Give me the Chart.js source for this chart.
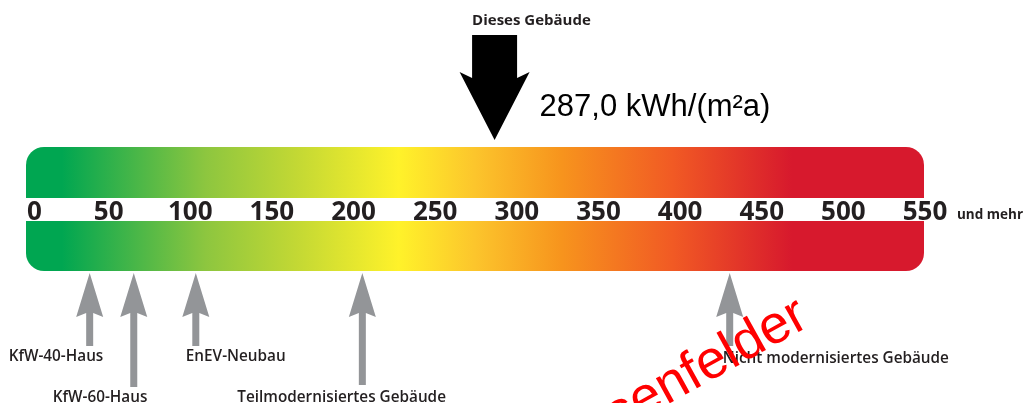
<!DOCTYPE html>
<html><head><meta charset="utf-8">
<script src="https://cdn.jsdelivr.net/npm/chart.js@4"></script>
<style>html,body{margin:0;padding:0;background:#fff}#wrap{width:1029px;height:403px;position:relative}</style>
</head><body><div id="wrap"><canvas id="c"></canvas></div>
<script>
// ---- data ----
const scaleCategory = ['Endenergiebedarf'];
const scaleRange = [0, 550];
const tickValues = [0, 50, 100, 150, 200, 250, 300, 350, 400, 450, 500, 550];
const tickLabels = ['0', '50', '100', '150', '200', '250', '300', '350', '400', '450', '500', '550'];
const tickSuffix = 'und mehr';
const buildingLabel = 'Dieses Gebäude';
const buildingValue = 287.0;
const buildingUnit = 'kWh/(m²a)';
const referenceLabels = ['KfW-40-Haus', 'KfW-60-Haus', 'EnEV-Neubau', 'Teilmodernisiertes Gebäude', 'Nicht modernisiertes Gebäude'];
const referenceValues = [39, 66, 104, 206, 431];
const watermarkText = 'Hasenfelder';

// ---- style ----
const TEXT = '#231f20';
const GREY = '#939598';
const refStyle = {
  shaftLen: [73, 114, 73, 112, 73],
  labelDx: [-81, -81, -10, -125, -7],
  labelY: [357, 398, 357, 398, 359]
};
const gradStops = [
  [0, '#00a651'], [0.04, '#00a651'], [0.2, '#8dc63f'], [0.3, '#c2d834'],
  [0.415, '#fff22a'], [0.5, '#fcc52c'], [0.596, '#f7941d'], [0.72, '#f15a24'],
  [0.853, '#d7192d'], [1, '#d7192d']
];

function barGradient(chart) {
  const a = chart.chartArea;
  if (!a) return '#8dc63f';
  const g = chart.ctx.createLinearGradient(a.left, 0, a.right, 0);
  gradStops.forEach(s => g.addColorStop(s[0], s[1]));
  return g;
}

const overlay = {
  id: 'overlay',
  afterDatasetsDraw(chart) {
    const ctx = chart.ctx, a = chart.chartArea, xs = chart.scales.x;
    ctx.save();
    // white band for the tick labels
    ctx.fillStyle = '#fff';
    ctx.fillRect(a.left - 3, a.top + 51, a.right - a.left + 6, 23);
    // tick labels
    ctx.fillStyle = TEXT;
    ctx.font = '700 26px "Open Sans"';
    ctx.textBaseline = 'alphabetic';
    const baseY = a.top + 73;
    tickValues.forEach((v, i) => {
      const x = xs.getPixelForValue(v);
      if (i === 0) { ctx.textAlign = 'left'; ctx.fillText(tickLabels[i], x + 1, baseY); }
      else { ctx.textAlign = 'center'; ctx.fillText(tickLabels[i], x + 1, baseY); }
    });
    ctx.textAlign = 'left';
    ctx.font = '700 13.5px "Open Sans"';
    ctx.fillText(tickSuffix, xs.getPixelForValue(tickValues[tickValues.length - 1]) + 33, baseY - 1);

    // reference arrows
    referenceValues.forEach((v, i) => {
      const x = xs.getPixelForValue(v);
      const tip = a.bottom + 2;
      const headB = tip + 44;
      const end = tip + refStyle.shaftLen[i];
      ctx.fillStyle = GREY;
      ctx.beginPath();
      ctx.moveTo(x, tip);
      ctx.lineTo(x + 13.5, headB);
      ctx.lineTo(x + 3.5, headB - 4);
      ctx.lineTo(x + 3.5, end);
      ctx.lineTo(x - 3.5, end);
      ctx.lineTo(x - 3.5, headB - 4);
      ctx.lineTo(x - 13.5, headB);
      ctx.closePath();
      ctx.fill();
      ctx.fillStyle = TEXT;
      ctx.font = '600 15.3px "Open Sans"';
      ctx.textAlign = 'left';
      ctx.textBaseline = 'middle';
      ctx.fillText(referenceLabels[i], x + refStyle.labelDx[i], refStyle.labelY[i]);
    });

    // this building arrow
    const bx = xs.getPixelForValue(buildingValue);
    const btip = a.top - 7;
    ctx.fillStyle = '#000';
    ctx.beginPath();
    ctx.moveTo(bx, btip);
    ctx.lineTo(bx - 35, btip - 68);
    ctx.lineTo(bx - 22.5, btip - 62);
    ctx.lineTo(bx - 22.5, btip - 105);
    ctx.lineTo(bx + 22.5, btip - 105);
    ctx.lineTo(bx + 22.5, btip - 62);
    ctx.lineTo(bx + 35, btip - 68);
    ctx.closePath();
    ctx.fill();
    ctx.fillStyle = TEXT;
    ctx.font = '700 15px "Open Sans"';
    ctx.textAlign = 'left';
    ctx.textBaseline = 'middle';
    ctx.fillText(buildingLabel, bx - 22.5, 21);
    ctx.fillStyle = '#000';
    ctx.font = '31px "Liberation Sans"';
    ctx.textBaseline = 'alphabetic';
    ctx.fillText(buildingValue.toFixed(1).replace('.', ',') + ' ' + buildingUnit, bx + 45, 116);

    // watermark
    ctx.save();
    ctx.translate(811, 325);
    ctx.rotate(-29 * Math.PI / 180);
    ctx.fillStyle = '#ff0000';
    ctx.font = '54px "Liberation Sans"';
    ctx.textAlign = 'right';
    ctx.textBaseline = 'alphabetic';
    ctx.fillText(watermarkText, 0, 0);
    ctx.restore();
    ctx.restore();
  }
};

new Chart(document.getElementById('c'), {
  type: 'bar',
  data: {
    labels: scaleCategory,
    datasets: [{
      data: [scaleRange],
      backgroundColor: c => barGradient(c.chart),
      borderRadius: 18,
      borderSkipped: false,
      barPercentage: 1,
      categoryPercentage: 1,
      inflateAmount: 0
    }]
  },
  options: {
    indexAxis: 'y',
    responsive: true,
    maintainAspectRatio: false,
    animation: false,
    layout: { padding: { left: 26, right: 105, top: 147, bottom: 132 } },
    scales: {
      x: { type: 'linear', min: 0, max: 550, display: false },
      y: { display: false }
    },
    plugins: { legend: { display: false }, tooltip: { enabled: false } }
  },
  plugins: [overlay]
});
</script>
</body></html>
